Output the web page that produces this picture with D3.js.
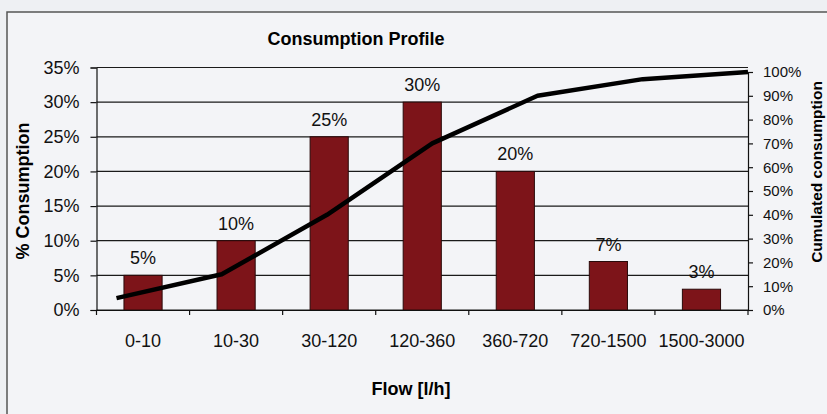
<!DOCTYPE html>
<html>
<head>
<meta charset="utf-8">
<script src="https://cdn.jsdelivr.net/npm/d3@7"></script>
<style>
  body { margin: 0; background: #eef0f3; }
  svg { display: block; font-family: "Liberation Sans", Arial, sans-serif; }
</style>
</head>
<body>
<div id="chart"></div>
<script>
// data
var categories = ['0-10', '10-30', '30-120', '120-360', '360-720', '720-1500', '1500-3000'];
var consumption = [5, 10, 25, 30, 20, 7, 3];        // % per flow class (bars, left axis)
var cumulated = [5, 15, 40, 70, 90, 97, 100];       // cumulated % (line, right axis)
var leftTicks = [0, 5, 10, 15, 20, 25, 30, 35];
var rightTicks = [0, 10, 20, 30, 40, 50, 60, 70, 80, 90, 100];

var W = 827, H = 414;
var pL = 96.5, pR = 748, pT = 67.5, pB = 310;

var svg = d3.select('#chart').append('svg').attr('width', W).attr('height', H);

svg.append('rect').attr('width', W).attr('height', H).attr('fill', '#eef0f3');
// outer frame of the chart object (runs off page right/bottom)
svg.append('rect').attr('x', 7).attr('y', 12).attr('width', 900).attr('height', 500)
  .attr('fill', '#f3f4f7').attr('stroke', '#555').attr('stroke-width', 1.5);

//---------------- scales ----------------
var x = d3.scaleBand().domain(categories).range([pL, pR]).paddingInner(0.59).paddingOuter(0.295);
var xLine = d3.scalePoint().domain(categories).range([pL + 20, pR]);
var yL = d3.scaleLinear().domain([0, 35]).range([pB, pT]);
var yR = d3.scaleLinear().domain([0, 100]).range([pB, 72]);

//---------------- grid ----------------
svg.append('g').selectAll('line').data(leftTicks).join('line')
  .attr('x1', pL).attr('x2', pR)
  .attr('y1', function(d){ return yL(d); }).attr('y2', function(d){ return yL(d); })
  .attr('stroke', '#1a1a1a').attr('stroke-width', 1.2);

//---------------- bars ----------------
svg.append('g').selectAll('rect').data(consumption).join('rect')
  .attr('x', function(d, i){ return x(categories[i]); })
  .attr('y', function(d){ return yL(d); })
  .attr('width', x.bandwidth())
  .attr('height', function(d){ return pB - yL(d); })
  .attr('fill', '#7d1419').attr('stroke', '#2a0a0a').attr('stroke-width', 1);

svg.append('g').selectAll('text').data(consumption).join('text')
  .attr('x', function(d, i){ return x(categories[i]) + x.bandwidth() / 2; })
  .attr('y', function(d){ return yL(d) - 11; })
  .attr('text-anchor', 'middle').attr('font-size', 18).attr('fill', '#111')
  .text(function(d){ return d + '%'; });

//---------------- axes ----------------
var gL = svg.append('g').attr('transform', 'translate(' + pL + ',0)')
  .call(d3.axisLeft(yL).tickValues(leftTicks).tickSize(6).tickPadding(11).tickFormat(function(d){ return d + '%'; }));
gL.selectAll('text').attr('font-size', 18).attr('fill', '#111').attr('font-family', null);

var gR = svg.append('g').attr('transform', 'translate(' + pR + ',0)')
  .call(d3.axisRight(yR).tickValues(rightTicks).tickSize(5).tickPadding(10).tickFormat(function(d){ return d + '%'; }));
gR.selectAll('text').attr('font-size', 15).attr('fill', '#111').attr('font-family', null);

[gL, gR].forEach(function(g){
  g.select('.domain').attr('stroke', '#111').attr('stroke-width', 1.2);
  g.selectAll('.tick line').attr('stroke', '#111').attr('stroke-width', 1.2);
});

// x axis: category labels + boundary ticks
var gB = svg.append('g').attr('transform', 'translate(0,' + pB + ')')
  .call(d3.axisBottom(x).tickSize(0).tickPadding(24));
gB.select('.domain').attr('stroke', '#111').attr('stroke-width', 1.2);
gB.selectAll('text').attr('font-size', 18).attr('fill', '#111').attr('font-family', null);
gB.selectAll('line.bnd').data(d3.range(categories.length + 1)).join('line')
  .attr('class', 'bnd')
  .attr('x1', function(i){ return pL + i * x.step(); }).attr('x2', function(i){ return pL + i * x.step(); })
  .attr('y1', 0).attr('y2', 5).attr('stroke', '#111').attr('stroke-width', 1.2);

//---------------- cumulated line ----------------
var line = d3.line()
  .x(function(d, i){ return xLine(categories[i]); })
  .y(function(d){ return yR(d); });
svg.append('path').datum(cumulated).attr('d', line)
  .attr('fill', 'none').attr('stroke', '#000').attr('stroke-width', 4.5).attr('stroke-linejoin', 'round');

//---------------- titles ----------------
svg.append('text').attr('x', 356).attr('y', 45).attr('text-anchor', 'middle')
  .attr('font-size', 18).attr('font-weight', 'bold').attr('fill', '#000').text('Consumption Profile');

svg.append('text').attr('x', 411).attr('y', 395).attr('text-anchor', 'middle')
  .attr('font-size', 18).attr('font-weight', 'bold').attr('fill', '#000').text('Flow [l/h]');

svg.append('text').attr('transform', 'translate(23,191) rotate(-90)').attr('dy', '0.35em')
  .attr('text-anchor', 'middle').attr('font-size', 18).attr('font-weight', 'bold').attr('fill', '#000')
  .text('% Consumption');

svg.append('text').attr('transform', 'translate(817,172) rotate(-90)').attr('dy', '0.35em')
  .attr('text-anchor', 'middle').attr('font-size', 15.5).attr('font-weight', 'bold').attr('fill', '#000')
  .text('Cumulated consumption');
</script>
</body>
</html>
